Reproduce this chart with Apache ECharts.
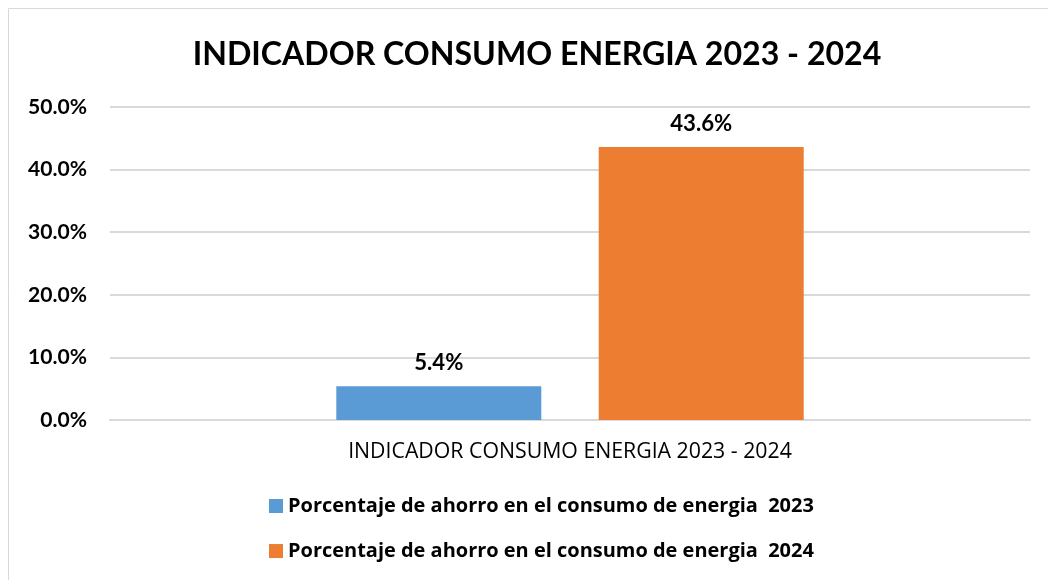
<!DOCTYPE html>
<html><head><meta charset="utf-8">
<script src="https://cdn.jsdelivr.net/npm/echarts@6/dist/echarts.min.js"></script>
<style>html,body{margin:0;padding:0;background:#fff}#c{width:1048px;height:580px}</style>
</head><body><div id="c"></div>
<script>
const titleText = "INDICADOR CONSUMO ENERGIA 2023 - 2024";
const categories = ["INDICADOR CONSUMO ENERGIA 2023 - 2024"];
const seriesNames = ["Porcentaje de ahorro en el consumo de energia  2023", "Porcentaje de ahorro en el consumo de energia  2024"];
const values2023 = [5.4];
const values2024 = [43.6];
const yTicks = [0, 10, 20, 30, 40, 50];

const TFONT = "Lato";
const FONT = "Open Sans";
const NFONT = "Lato";
const ctx = document.createElement('canvas').getContext('2d');
function fit(text, weight, family, target) {
  ctx.font = weight + ' 100px "' + family + '"';
  return 100 * target / ctx.measureText(text).width;
}
const titleSize = fit(titleText, 'bold', TFONT, 689);
const xSize = fit(categories[0], 'normal', FONT, 444);
const legSize = fit(seriesNames[0], 'bold', FONT, 526);
const ySize = fit('10.0%', 'bold', NFONT, 59);
const lblSize = fit('43.6%', 'bold', NFONT, 62);

const chart = echarts.init(document.getElementById('c'), null, {renderer: 'canvas'});
chart.setOption({
  backgroundColor: '#fff',
  animation: false,
  graphic: [{
    type: 'rect', shape: {x: 8.5, y: 8.5, width: 1100, height: 600},
    style: {fill: 'none', stroke: '#d9d9d9', lineWidth: 1}
  }],
  title: {
    text: titleText, left: 532, top: 52 - titleSize * 0.56, textAlign: 'center',
    textStyle: {fontFamily: TFONT, fontWeight: 'bold', fontSize: titleSize, color: '#000'}
  },
  grid: {left: 110, right: 18, top: 107, bottom: 160},
  legend: {
    orient: 'vertical', left: 264, top: 501 - legSize / 2, itemGap: 45 - legSize,
    itemWidth: 14, itemHeight: 14, icon: 'rect', itemStyle: {borderWidth: 0},
    textStyle: {fontFamily: FONT, fontWeight: 'bold', fontSize: legSize, color: '#000', padding: [0,0,0,0]},
    data: seriesNames
  },
  xAxis: {
    type: 'category', data: categories,
    axisLine: {show: true, lineStyle: {color: '#d9d9d9', width: 2}},
    axisTick: {show: false},
    axisLabel: {fontFamily: FONT, fontWeight: 'normal', fontSize: xSize, color: '#000', margin: 32 - xSize / 2}
  },
  yAxis: {
    type: 'value', min: 0, max: 50, interval: 10,
    axisLine: {show: false}, axisTick: {show: false},
    splitLine: {lineStyle: {color: '#d9d9d9', width: 2}},
    axisLabel: {fontFamily: NFONT, fontWeight: 'bold', fontSize: ySize, color: '#000', margin: 23,
      formatter: v => yTicks.includes(v) ? v.toFixed(1) + '%' : ''}
  },
  series: [
    {name: seriesNames[0], type: 'bar', data: values2023, barWidth: 205, barGap: '28%',
     itemStyle: {color: '#5b9bd5'},
     label: {show: true, position: 'top', distance: 23 - lblSize / 2, fontFamily: NFONT, fontWeight: 'bold', fontSize: lblSize, color: '#000',
       formatter: p => p.value.toFixed(1) + '%'}},
    {name: seriesNames[1], type: 'bar', data: values2024, barWidth: 205,
     itemStyle: {color: '#ed7d31'},
     label: {show: true, position: 'top', distance: 23 - lblSize / 2, fontFamily: NFONT, fontWeight: 'bold', fontSize: lblSize, color: '#000',
       formatter: p => p.value.toFixed(1) + '%'}}
  ]
});
</script></body></html>
